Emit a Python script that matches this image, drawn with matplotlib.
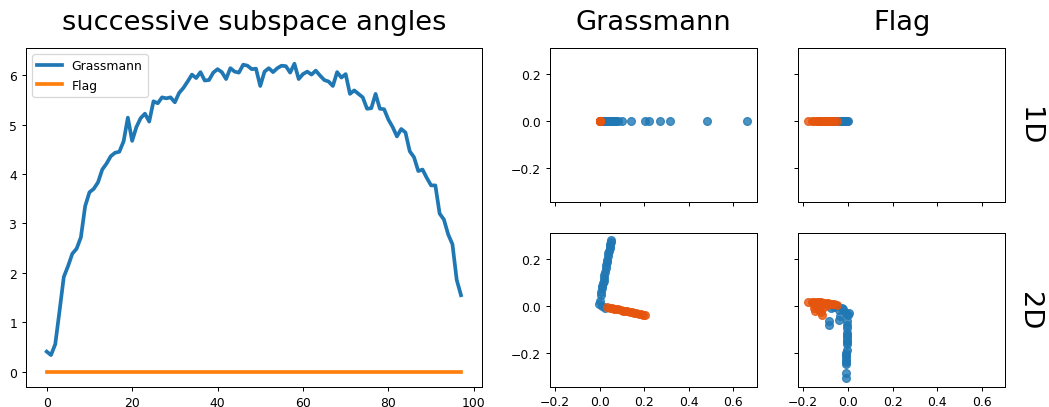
import matplotlib
matplotlib.use("Agg")
import matplotlib.pyplot as plt

# ---- successive subspace angles (one value per step) ----
grassmann_angles = [
    0.41, 0.34, 0.56, 1.23, 1.92, 2.14, 2.39, 2.49, 2.72, 3.35,
    3.63, 3.70, 3.83, 4.09, 4.21, 4.36, 4.43, 4.45, 4.66, 5.14,
    4.67, 4.95, 5.13, 5.22, 5.06, 5.47, 5.43, 5.55, 5.53, 5.55,
    5.45, 5.64, 5.74, 5.87, 6.01, 5.94, 6.06, 5.89, 5.90, 6.05,
    6.12, 6.06, 5.92, 6.14, 6.07, 6.05, 6.21, 6.19, 6.12, 6.13,
    5.78, 6.07, 6.14, 6.06, 6.14, 6.19, 6.18, 6.05, 6.23, 5.92,
    6.02, 6.07, 6.01, 6.09, 5.99, 5.90, 5.87, 5.78, 6.06, 5.95,
    6.02, 5.62, 5.69, 5.62, 5.55, 5.32, 5.33, 5.62, 5.32, 5.31,
    5.10, 4.95, 4.76, 4.91, 4.84, 4.46, 4.34, 4.06, 4.09, 3.92,
    3.77, 3.77, 3.20, 3.08, 2.78, 2.58, 1.86, 1.55,
]
flag_angles = [0.0] * len(grassmann_angles)
steps = list(range(len(grassmann_angles)))

# ---- embeddings: 1D ----
g1_blue_x = [0.000, 0.005, 0.010, 0.015, 0.020, 0.025, 0.030, 0.035, 0.040,
             0.045, 0.050, 0.055, 0.060, 0.070, 0.075, 0.085, 0.100, 0.140,
             0.205, 0.220, 0.272, 0.317, 0.484, 0.663]
g1_blue_y = [0.0] * len(g1_blue_x)
g1_orange_x = [0.000, 0.001, 0.002, 0.003, 0.004, 0.002, 0.001]
g1_orange_y = [0.0] * len(g1_orange_x)

f1_blue_x = [-0.100, -0.090, -0.080, -0.070, -0.060, -0.050, -0.040, -0.030,
             -0.025, -0.020, -0.015, -0.010, -0.005, 0.000]
f1_blue_y = [0.0] * len(f1_blue_x)
f1_orange_x = [-0.180, -0.160, -0.150, -0.140, -0.135, -0.130, -0.125, -0.120,
               -0.115, -0.110, -0.105, -0.100, -0.095, -0.090, -0.085, -0.080,
               -0.075, -0.070, -0.060, -0.050]
f1_orange_y = [0.0] * len(f1_orange_x)

# ---- embeddings: 2D ----
g2_blue_x = [-0.004, 0.011, 0.025, 0.002, 0.006, 0.008, 0.011, 0.013, 0.016,
             0.018, 0.020, 0.021, 0.024, 0.027, 0.030, 0.033, 0.035, 0.038,
             0.040, 0.042, 0.045, 0.047, 0.049, 0.051, 0.053]
g2_blue_y = [0.007, -0.003, -0.010, 0.020, 0.047, 0.058, 0.075, 0.085, 0.095,
             0.104, 0.120, 0.132, 0.145, 0.160, 0.174, 0.185, 0.196, 0.210,
             0.224, 0.235, 0.245, 0.253, 0.262, 0.272, 0.280]
g2_orange_x = [0.035, 0.045, 0.055, 0.065, 0.075, 0.085, 0.095, 0.105, 0.115,
               0.125, 0.135, 0.145, 0.155, 0.165, 0.175, 0.185, 0.195, 0.205]
g2_orange_y = [-0.006, -0.008, -0.011, -0.012, -0.014, -0.016, -0.018, -0.021,
               -0.022, -0.024, -0.026, -0.028, -0.030, -0.032, -0.034, -0.036,
               -0.038, -0.040]

f2_blue_x = [-0.075, -0.060, -0.048, -0.040, -0.035, -0.025, -0.020, -0.010,
             0.000, 0.005, -0.085, -0.085, -0.040, -0.003, -0.003, -0.003,
             -0.004, -0.005, -0.005, -0.004, -0.005, -0.006, -0.006, -0.007,
             -0.007, -0.008, -0.008, -0.007, -0.008, -0.010, -0.010]
f2_blue_y = [-0.008, -0.005, -0.003, -0.020, -0.045, -0.010, -0.015, -0.030,
             -0.038, -0.031, -0.066, -0.081, -0.060, -0.065, -0.080, -0.095,
             -0.115, -0.125, -0.135, -0.145, -0.155, -0.165, -0.190, -0.200,
             -0.210, -0.220, -0.230, -0.240, -0.250, -0.285, -0.310]
f2_orange_x = [-0.180, -0.160, -0.155, -0.150, -0.140, -0.130, -0.120, -0.110,
               -0.100, -0.090, -0.080, -0.070, -0.060, -0.050, -0.145, -0.135,
               -0.125, -0.150, -0.145, -0.130, -0.120, -0.115, -0.105, -0.095]
f2_orange_y = [0.016, 0.015, 0.010, 0.018, 0.017, 0.016, 0.014, 0.013,
               0.012, 0.010, 0.009, 0.008, 0.006, 0.003, 0.005, 0.000,
               0.004, -0.010, -0.022, -0.018, -0.025, -0.038, -0.005, 0.002]

col_titles = ["Grassmann", "Flag"]
row_labels = ["1D", "2D"]

BLUE = "#1f77b4"
ORANGE = "#e6550d"
BIG_FS = 22

W, H = 1049, 408
DPI = 89
fig = plt.figure(figsize=(W / DPI, H / DPI), dpi=DPI)


def box(x0, y0, x1, y1):
    """Convert a pixel box (top-left origin) into figure fractions."""
    return [x0 / W, 1 - y1 / H, (x1 - x0) / W, (y1 - y0) / H]


# ---- left panel: angle curves ----
ax = fig.add_axes(box(26, 49.3, 481.7, 388.3))
ax.plot(steps, grassmann_angles, color=BLUE, lw=3, label="Grassmann")
ax.plot(steps, flag_angles, color="#ff7f0e", lw=3, label="Flag")
ax.set_title("successive subspace angles", fontsize=BIG_FS, pad=15.5)
ax.legend(loc="upper left")

# ---- right panels: embeddings ----
col_x = [(550, 756.7), (798.3, 1005.3)]
row_y = [(49, 203.3), (234, 387.7)]
panels = [
    [(g1_blue_x, g1_blue_y, g1_orange_x, g1_orange_y),
     (f1_blue_x, f1_blue_y, f1_orange_x, f1_orange_y)],
    [(g2_blue_x, g2_blue_y, g2_orange_x, g2_orange_y),
     (f2_blue_x, f2_blue_y, f2_orange_x, f2_orange_y)],
]

for r in range(2):
    for c in range(2):
        a = fig.add_axes(box(col_x[c][0], row_y[r][0], col_x[c][1], row_y[r][1]))
        bx, by, ox, oy = panels[r][c]
        a.scatter(bx, by, color=BLUE, alpha=0.8, s=40)
        a.scatter(ox, oy, color=ORANGE, alpha=0.8, s=40)
        a.set_xlim(-0.222, 0.705)
        a.set_ylim(-0.345, 0.31)
        a.set_xticks([-0.2, 0.0, 0.2, 0.4, 0.6])
        a.set_yticks([-0.2, 0.0, 0.2])
        if r == 0:
            a.set_title(col_titles[c], fontsize=BIG_FS, pad=15.5)
            a.tick_params(labelbottom=False)
        if c == 1:
            a.tick_params(labelleft=False)
            yc = (row_y[r][0] + row_y[r][1]) / 2
            fig.text(1029 / W, 1 - yc / H, row_labels[r], rotation=270,
                     fontsize=BIG_FS, ha="center", va="center")

fig.savefig("out.png", dpi=DPI)
